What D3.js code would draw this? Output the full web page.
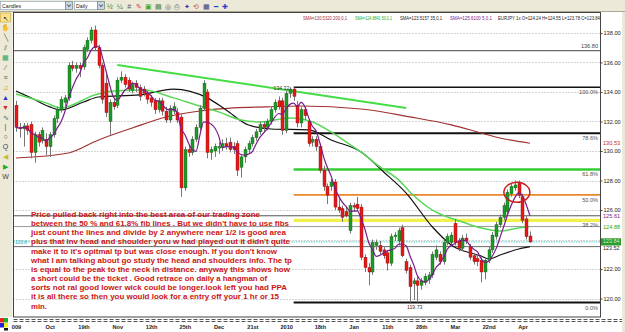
<!DOCTYPE html>
<html>
<head>
<meta charset="utf-8">
<script src="https://cdn.jsdelivr.net/npm/d3@7"></script>
<style>
  body { margin: 0; background: #fff; }
  svg { display: block; }
  text { font-family: "Liberation Sans", Arial, sans-serif; }
</style>
</head>
<body>
<script>
// EURJPY daily candles --------------------------------------------------
var opens = [
  133.1,131.6,131.5,131.7,131.8,129.9,131.1,130.7,130.8,130.3,
  131.1,132.2,132.8,133.3,133.6,135.8,135.6,135.8,135.7,136.9,
  137.5,138.2,137.0,135.8,134.6,132.0,133.3,133.1,134.8,135.0,
  134.8,134.1,134.6,134.3,134.2,133.9,133.6,133.4,132.8,133.4,
  132.7,132.1,132.7,132.6,132.3,127.5,130.1,129.9,130.8,131.6,
  132.9,134.0,129.9,130.0,130.2,130.3,130.5,130.6,130.3,130.5,
  128.9,129.6,130.1,130.5,130.9,131.3,131.8,131.6,132.0,132.8,
  133.4,133.4,131.4,133.9,134.2,133.1,131.9,132.8,132.0,130.6,
  130.8,130.3,128.7,127.6,127.6,127.9,126.2,126.1,125.9,124.6,
  126.3,126.4,126.2,122.8,122.1,121.8,123.6,123.6,123.3,123.1,
  122.4,124.2,123.9,124.8,122.5,122.1,121.0,121.2,120.9,121.1,
  121.3,121.6,122.8,123.0,122.5,123.8,123.8,125.1,123.9,123.4,
  124.1,123.5,122.9,122.7,122.6,121.8,122.6,123.3,124.2,125.0,
  125.5,125.9,127.1,127.5,127.8,126.9,125.4,124.24
];
var highs = [
  133.4,131.9,131.9,131.9,132.0,131.3,131.3,131.6,131.2,131.3,
  132.4,133.0,133.7,133.8,136.0,136.1,136.0,136.0,137.2,137.7,
  138.4,138.5,137.2,136.0,135.2,133.5,133.6,135.0,135.4,135.2,
  135.0,134.7,134.8,134.5,134.4,134.1,133.8,133.6,133.6,133.6,
  133.0,133.1,133.3,132.9,132.5,130.3,130.4,131.0,131.8,133.1,
  134.8,134.2,130.3,130.5,130.6,130.8,130.9,130.9,130.6,130.7,
  129.8,130.3,130.7,131.1,131.5,132.0,132.0,132.2,133.0,133.5,
  133.7,133.6,134.1,134.32,134.3,133.4,133.0,133.0,132.2,131.0,
  131.0,130.5,129.0,127.8,128.1,128.1,126.9,126.3,126.2,126.5,
  126.5,126.9,126.4,123.0,122.4,124.0,124.0,123.9,123.5,123.3,
  124.4,124.5,124.8,125.0,122.7,122.3,121.4,121.5,121.4,121.7,
  121.8,123.2,123.6,123.2,124.0,124.4,124.5,125.4,124.1,124.3,
  124.4,123.7,123.1,122.9,122.8,122.8,123.5,124.5,125.2,125.7,
  126.5,127.4,127.8,128.0,128.0,127.1,125.6,124.55
];
var lows = [
  131.3,130.9,130.3,131.1,129.5,129.2,130.3,130.5,129.7,129.6,
  130.9,131.9,132.6,133.0,133.4,135.4,135.3,135.0,135.5,136.7,
  137.3,136.8,135.6,133.2,132.3,131.1,132.8,132.9,134.6,134.3,
  134.0,133.9,134.0,133.4,133.7,133.2,133.0,132.5,132.6,132.4,
  131.9,131.9,132.5,131.9,126.9,127.3,129.6,129.7,130.6,131.4,
  132.7,129.5,129.4,129.6,129.8,130.0,130.1,129.9,129.8,128.3,
  128.2,129.2,129.8,130.3,130.7,131.1,131.3,131.4,131.8,132.6,
  132.8,131.1,131.2,133.6,133.4,131.6,131.6,132.1,130.3,130.3,
  130.0,128.5,127.3,126.4,127.3,126.0,125.8,125.2,125.5,124.4,
  125.9,125.9,122.6,121.8,120.9,121.6,123.3,123.0,122.7,121.9,
  122.2,123.9,123.6,122.8,121.7,119.73,119.9,119.73,120.6,120.9,
  121.0,121.4,122.6,122.3,122.3,123.6,123.6,123.6,123.2,123.2,
  123.7,122.6,122.3,122.2,121.1,121.3,122.4,123.1,124.0,124.8,
  125.3,125.7,126.9,127.3,126.8,125.1,124.0,123.78
];
var closes = [
  131.6,131.5,131.7,131.4,129.9,131.1,130.6,131.4,130.3,131.1,
  132.2,132.8,133.5,133.6,135.8,135.6,135.8,135.6,137.0,137.5,
  138.2,137.0,135.8,133.5,132.6,133.3,133.0,134.8,135.0,134.5,
  134.2,134.5,134.3,133.7,133.9,133.5,133.3,132.8,133.4,132.7,
  132.1,132.9,133.0,132.1,127.5,130.1,129.9,130.8,131.6,132.9,
  134.6,129.9,130.1,130.3,130.3,130.5,130.3,130.1,130.1,128.7,
  129.6,130.1,130.5,130.9,131.3,131.8,131.6,132.0,132.8,133.3,
  133.0,131.4,133.9,134.2,133.7,131.9,132.8,132.4,130.5,130.8,
  130.3,128.7,127.6,127.0,127.9,126.2,126.0,125.5,125.6,126.3,
  126.2,126.1,122.8,122.1,121.8,123.8,123.8,123.2,122.9,122.4,
  124.2,124.3,124.6,122.9,121.9,120.8,121.2,120.9,121.2,121.5,
  121.6,123.0,123.3,122.5,123.8,124.2,124.3,123.8,123.4,124.1,
  123.9,122.8,122.5,122.5,121.8,122.6,123.3,124.3,125.0,125.5,
  126.3,127.2,127.6,127.7,127.0,125.3,124.2,123.84
];

// moving averages read at a few candles (index, value)
var sma200Idx = [0, 14, 22, 31, 40, 49, 58, 67, 76, 92, 105, 116, 124, 129, 137];
var sma200Val = [129.53, 129.87, 130.75, 131.56, 132.31, 132.71, 132.92, 132.99, 133.05, 132.85, 132.31, 131.77, 131.22, 130.88, 130.53];
var sma50Idx = [0, 8, 12, 21, 26, 34, 42, 48, 54, 60, 65, 73, 79, 84, 88, 92, 97, 102, 105, 111, 115, 119, 124, 129, 134, 137];
var sma50Val = [133.87, 133.26, 132.92, 133.80, 134.07, 134.14, 133.60, 133.12, 132.65, 132.10, 131.97, 132.24, 131.97, 131.29, 130.61, 129.93, 128.92, 128.04, 127.22, 126.00, 125.53, 125.19, 124.78, 124.58, 124.78, 124.88];
var sma35Idx = [0, 4, 9, 12, 18, 22, 33, 42, 51, 56, 62, 68, 78, 84, 92, 98, 104, 111, 116, 124, 126, 129, 134, 137];
var sma35Val = [134.07, 133.60, 132.99, 132.78, 133.32, 133.66, 133.80, 134.20, 133.60, 132.78, 131.76, 131.49, 131.43, 130.75, 129.93, 128.58, 127.15, 124.85, 123.63, 122.88, 122.68, 122.95, 123.36, 123.52];

// hand drawn downtrend line
var trendIdx = [27, 104];
var trendVal = [135.83, 132.92];

// fibonacci from the 134.32 top to the 119.73 low
var fibHigh = 134.32, fibLow = 119.73, fibStart = 74;
var fibLevels = [1, 0.786, 0.618, 0.5, 0.382, 0];
var fibLabels = ['100.0%', '78.6%', '61.8%', '50.0%', '38.2%', '0.0%'];
var levelLine = 136.80;

var priceTicks = [120, 122, 124, 126, 128, 130, 132, 134, 136, 138];
var dateIdx = [0, 9, 18, 27, 36, 45, 54, 63, 72, 81, 90, 99, 108, 117, 126, 135];
var dateLabels = ['009', 'Oct', '19th', 'Nov', '12th', '25th', 'Dec', '21st', '2010', '18th', 'Jan', '11th', '28th', 'Mar', '22nd', 'Apr'];

var lastSma200 = 130.53, lastSma5 = 125.61, lastSma50 = 124.88, lastClose = 123.84, lastSma35 = 123.52;

var legendTexts = ['SMA=130.5320 200,0,1', 'SMA=124.8841 50,0,1', 'SMA=123.5157 35,0,1', 'SMA=125.6100 5,0,1', 'EURJPY 1x O=124.24 H=124.55 L=123.78 C=123.84'];

var noteLines = [
  'Price pulled back right into the best area of our trading zone',
  "between the 50 % and 61.8% fib lines . But we didn't have to use fibs",
  'just count the lines and divide by 2 anywhere near 1/2 is good area',
  "plus that inv head and shoulder yoru w had played out it didn't quite",
  "make it to it's opitmal tp but was close enough. If you don't know",
  'what I am talking about go study the head and shoulders info. The tp',
  'is equal to the peak to the neck in distance.  anyway this shows how',
  'a short could be the ticket .  Good retrace on daily a hangman of',
  'sorts not ral good lower wick could be longer.look left you had PPA',
  'it is all there so then you would look for a entry off your 1 hr or 15',
  'min.'
];

// layout ------------------------------------------------------------------
var W = 625, H = 332;
var plot = {left: 13.5, top: 12.5, right: 600.5, bottom: 317};
var noteWidths = [229, 258, 255, 259, 246, 261, 259, 236, 256, 248, 16];
var legendX = [303, 355, 400, 450, 498];
var legendW = [44, 37, 42, 42, 102];
var legendColors = ['#a52a2a', '#22aa22', '#222', '#7a1a8a', '#222'];

var x = d3.scaleLinear().domain([0, 137]).range([16, 530]);
var y = d3.scaleLinear().domain([118.75, 139.42]).range([317, 12]);

var svg = d3.select('body').append('svg')
  .attr('width', W)
  .attr('height', H);

svg.append('rect').attr('width', W).attr('height', H).attr('fill', '#fff');

// top toolbar
svg.append('rect').attr('width', W).attr('height', 11).attr('fill', '#ece9d8');
svg.append('line').attr('x1', 0).attr('x2', W).attr('y1', 11.5).attr('y2', 11.5).attr('stroke', '#aca899');
var combo = function(x0, w, label) {
  svg.append('rect').attr('x', x0 + 0.5).attr('y', 1.5).attr('width', w).attr('height', 8)
    .attr('fill', '#fff').attr('stroke', '#7f9db9').attr('stroke-width', 0.6);
  svg.append('text').attr('x', x0 + 2).attr('y', 7.8).attr('font-size', 5.2).attr('fill', '#222').text(label);
  svg.append('rect').attr('x', x0 + w + 0.5).attr('y', 1.5).attr('width', 7).attr('height', 8)
    .attr('fill', '#c9d6ea').attr('stroke', '#5a7a5a').attr('stroke-width', 0.6);
  svg.append('path').attr('d', 'M' + (x0 + w + 2.3) + ',4.6 l1.7,2 l1.7,-2')
    .attr('fill', 'none').attr('stroke', '#234').attr('stroke-width', 1);
};
combo(0, 65, 'Candles');
combo(74, 23, 'Daily');

var topIcons = ['½', '¼', '#', '✎', '▣', '▤', '◎', '⎙', '✦', '⟲', '▦', '━', '✚'];
var topColors = ['#484', '#484', '#555', '#c33', '#3a3', '#373', '#555', '#555', '#33a', '#c55', '#448', '#24c', '#24c'];
svg.selectAll('.ticon').data(topIcons).enter().append('text')
  .attr('x', function(d, i) { return 110 + i * 9.6; })
  .attr('y', 8.5)
  .attr('font-size', 7)
  .attr('font-family', 'DejaVu Sans')
  .attr('text-anchor', 'middle')
  .attr('fill', function(d, i) { return topColors[i]; })
  .text(function(d) { return d; });

// left toolbar
svg.append('rect').attr('x', 0).attr('y', 12).attr('width', 12.5).attr('height', 305).attr('fill', '#ece9d8');
svg.append('rect').attr('x', 0.5).attr('y', 13).attr('width', 10).attr('height', 9)
  .attr('fill', '#f8e38a').attr('stroke', '#c9a43a').attr('stroke-width', 0.6);
var leftIcons = ['↖', '✋', '╲', '⫽', '▦', '⁄', '≡', '♫', '▲', '▼', '∿', '|', '○', 'Q', '◀', '▶', 'W'];
var leftColors = ['#333', '#555', '#555', '#555', '#3a6', '#555', '#555', '#b80', '#23c', '#d22', '#444', '#444', '#444', '#446', '#cb2', '#2a2', '#444'];
svg.selectAll('.licon').data(leftIcons).enter().append('text')
  .attr('x', 5.5)
  .attr('y', function(d, i) { return 20.5 + i * 9.9; })
  .attr('font-size', 7)
  .attr('font-family', 'DejaVu Sans')
  .attr('text-anchor', 'middle')
  .attr('fill', function(d, i) { return leftColors[i]; })
  .text(function(d) { return d; });

// right strip
svg.append('rect').attr('x', 622).attr('y', 12).attr('width', 3).attr('height', H - 12).attr('fill', '#ece9d8');

// bottom left colour squares
[['#e22', 0, 318], ['#2a2', 4, 318], ['#22d', 0, 323], ['#ee2', 4, 323], ['#111', 4, 328]].forEach(function(s) {
  svg.append('rect').attr('x', s[1]).attr('y', s[2]).attr('width', 4).attr('height', s[0] === '#111' ? 2.5 : 4.5).attr('fill', s[0]);
});

// grid ----------------------------------------------------------------------
svg.selectAll('.grid').data(priceTicks).enter().append('line')
  .attr('x1', plot.left).attr('x2', plot.right)
  .attr('y1', function(d) { return Math.round(y(d)) + 0.5; })
  .attr('y2', function(d) { return Math.round(y(d)) + 0.5; })
  .attr('stroke', '#a8a8a8')
  .attr('stroke-dasharray', '1,2');

// horizontal levels
var hline = function(p, x1, color, width, dash) {
  var l = svg.append('line')
    .attr('x1', x1).attr('x2', plot.right)
    .attr('y1', y(p)).attr('y2', y(p))
    .attr('stroke', color).attr('stroke-width', width);
  if (dash) l.attr('stroke-dasharray', dash);
  return l;
};
hline(levelLine, plot.left, '#6a6a6a', 1.3);
hline(lastSma5, plot.left, '#555', 1);
hline(lastSma50, plot.left, '#9a9a9a', 1);
hline(lastSma35, plot.left, '#6a6a6a', 1);
hline(lastClose, plot.left, '#55c8c8', 1, '1.5,1');

// fibonacci levels
var fibColors = ['#111', '#111', '#33cc33', '#e8872a', '#f2f04a', '#111'];
var fibWidths = [1.4, 2, 2.5, 1.6, 3.2, 2];
fibLevels.forEach(function(f, i) {
  var p = fibLow + f * (fibHigh - fibLow);
  hline(p, x(fibStart), fibColors[i], fibWidths[i]);
  svg.append('text')
    .attr('x', 598).attr('y', y(p) + 7)
    .attr('text-anchor', 'end')
    .attr('font-size', 5.6)
    .attr('fill', '#555')
    .text(fibLabels[i]);
});
svg.append('text')
  .attr('x', 598).attr('y', y(levelLine) - 2.5)
  .attr('text-anchor', 'end').attr('font-size', 5.6).attr('fill', '#444')
  .text(levelLine.toFixed(2));

// moving averages -------------------------------------------------------------
var maLine = d3.line()
  .x(function(d) { return x(d[0]); })
  .y(function(d) { return y(d[1]); })
  .curve(d3.curveMonotoneX);

var drawMA = function(idx, vals, color, width) {
  svg.append('path')
    .datum(idx.map(function(v, i) { return [v, vals[i]]; }))
    .attr('d', maLine)
    .attr('fill', 'none')
    .attr('stroke', color)
    .attr('stroke-width', width);
};
drawMA(sma200Idx, sma200Val, '#a23030', 1.1);
drawMA(sma35Idx, sma35Val, '#111', 1.2);
drawMA(sma50Idx, sma50Val, '#5ad85a', 1.5);

// downtrend line
svg.append('line')
  .attr('x1', x(trendIdx[0])).attr('y1', y(trendVal[0]))
  .attr('x2', x(trendIdx[1])).attr('y2', y(trendVal[1]))
  .attr('stroke', '#44dd44').attr('stroke-width', 2);

// candles -----------------------------------------------------------------------
var candles = opens.map(function(o, i) {
  return {i: i, o: o, h: highs[i], l: lows[i], c: closes[i]};
});

var g = svg.append('g');
g.selectAll('.wick').data(candles).enter().append('line')
  .attr('x1', function(d) { return Math.round(x(d.i)) + 0.5; })
  .attr('x2', function(d) { return Math.round(x(d.i)) + 0.5; })
  .attr('y1', function(d) { return y(d.h); })
  .attr('y2', function(d) { return y(d.l); })
  .attr('stroke', '#777')
  .attr('stroke-width', 1);

g.selectAll('.body').data(candles).enter().append('rect')
  .attr('x', function(d) { return Math.round(x(d.i)) - 1; })
  .attr('width', 3)
  .attr('y', function(d) { return y(Math.max(d.o, d.c)); })
  .attr('height', function(d) { return Math.max(1, Math.abs(y(d.o) - y(d.c))); })
  .attr('fill', function(d) { return d.c >= d.o ? '#1f9a2a' : '#e81818'; })
  .attr('stroke', function(d) { return d.c >= d.o ? '#145a18' : '#8a1010'; })
  .attr('stroke-width', 0.4);

// 5 period SMA of the closes
var sma5 = closes.map(function(c, i) {
  return [i, d3.mean(closes.slice(Math.max(0, i - 4), i + 1))];
});
svg.append('path')
  .datum(sma5)
  .attr('d', maLine)
  .attr('fill', 'none')
  .attr('stroke', '#7a1a8a')
  .attr('stroke-width', 1.2);

// labels on the chart
svg.append('text')
  .attr('x', x(73) - 0.5).attr('y', y(fibHigh) + 2.5)
  .attr('text-anchor', 'end').attr('font-size', 5.2).attr('fill', '#333')
  .text(fibHigh.toFixed(2));
svg.append('text')
  .attr('x', x(106) + 1).attr('y', y(fibLow) + 6.5)
  .attr('text-anchor', 'middle').attr('font-size', 5.2).attr('fill', '#333')
  .text(fibLow.toFixed(2));
svg.append('text')
  .attr('x', 15).attr('y', y(lastClose) + 1.8)
  .attr('font-size', 4.8).attr('fill', '#33b8c8')
  .text(lastClose.toFixed(1));

// circle round the top
svg.append('ellipse')
  .attr('cx', x(133.5)).attr('cy', y(127.2))
  .attr('rx', 13).attr('ry', 10)
  .attr('fill', 'none').attr('stroke', '#c81e1e').attr('stroke-width', 1.5);

// note text
svg.selectAll('.note').data(noteLines).enter().append('text')
  .attr('x', 31)
  .attr('y', function(d, i) { return 217 + i * 9.15; })
  .attr('font-size', 7.8)
  .attr('font-weight', 'bold')
  .attr('fill', '#cc1414')
  .attr('textLength', function(d, i) { return noteWidths[i]; })
  .attr('lengthAdjust', 'spacingAndGlyphs')
  .text(function(d) { return d; });

// legend at the top
svg.selectAll('.legend').data(legendTexts).enter().append('text')
  .attr('x', function(d, i) { return legendX[i]; })
  .attr('y', 19.5)
  .attr('font-size', 5)
  .attr('fill', function(d, i) { return legendColors[i]; })
  .attr('textLength', function(d, i) { return legendW[i]; })
  .attr('lengthAdjust', 'spacingAndGlyphs')
  .text(function(d) { return d; });

// frame ---------------------------------------------------------------------------
svg.append('rect')
  .attr('x', plot.left).attr('y', plot.top)
  .attr('width', plot.right - plot.left).attr('height', plot.bottom - plot.top)
  .attr('fill', 'none').attr('stroke', '#444').attr('stroke-width', 1);

// price axis on the right (the 124.00 label sits under the price tag)
var yAxis = d3.axisRight(y).tickValues(priceTicks).tickSize(2)
  .tickFormat(function(d) { return d === 124 ? '' : d.toFixed(2); });
var ya = svg.append('g').attr('transform', 'translate(' + plot.right + ',0)').call(yAxis);
ya.select('.domain').remove();
ya.selectAll('text').attr('font-size', 5.6).attr('fill', '#222').attr('x', 3)
  .style('font-family', '"Liberation Sans", Arial, sans-serif');
ya.selectAll('line').attr('stroke', '#444');

var tag = function(p, color) {
  svg.append('text').attr('x', 603).attr('y', y(p)).attr('dy', '0.35em')
    .attr('font-size', 5.6).attr('fill', color).text(p.toFixed(2));
};
tag(lastSma200, '#c03030');
tag(lastSma5, '#7a1a8a');
tag(lastSma50, '#22aa22');
svg.append('rect').attr('x', 601).attr('y', y(lastClose) - 3.6).attr('width', 20).attr('height', 7.2).attr('fill', '#2c9c2c');
svg.append('text').attr('x', 603).attr('y', y(lastClose) - 0.3).attr('dy', '0.35em')
  .attr('font-size', 5.4).attr('fill', '#cfe9cf').text(lastClose.toFixed(2));
svg.append('text').attr('x', 603).attr('y', y(lastSma35) + 1.2).attr('dy', '0.35em')
  .attr('font-size', 5.4).attr('fill', '#222').text(lastSma35.toFixed(2));

// date axis
[319.5, 321.5].forEach(function(yy) {
  svg.append('line').attr('x1', plot.left).attr('x2', 622).attr('y1', yy).attr('y2', yy)
    .attr('stroke', '#555').attr('stroke-dasharray', '4,2');
});
var xAxis = d3.axisBottom(x).tickValues(dateIdx).tickSize(0)
  .tickFormat(function(d, i) { return dateLabels[i]; });
var xa = svg.append('g').attr('transform', 'translate(0,323)').call(xAxis);
xa.select('.domain').remove();
xa.selectAll('text').attr('font-size', 5.6).attr('font-weight', 'bold').attr('fill', '#222').attr('dy', '0.55em')
  .style('font-family', '"Liberation Sans", Arial, sans-serif');
</script>
</body>
</html>
